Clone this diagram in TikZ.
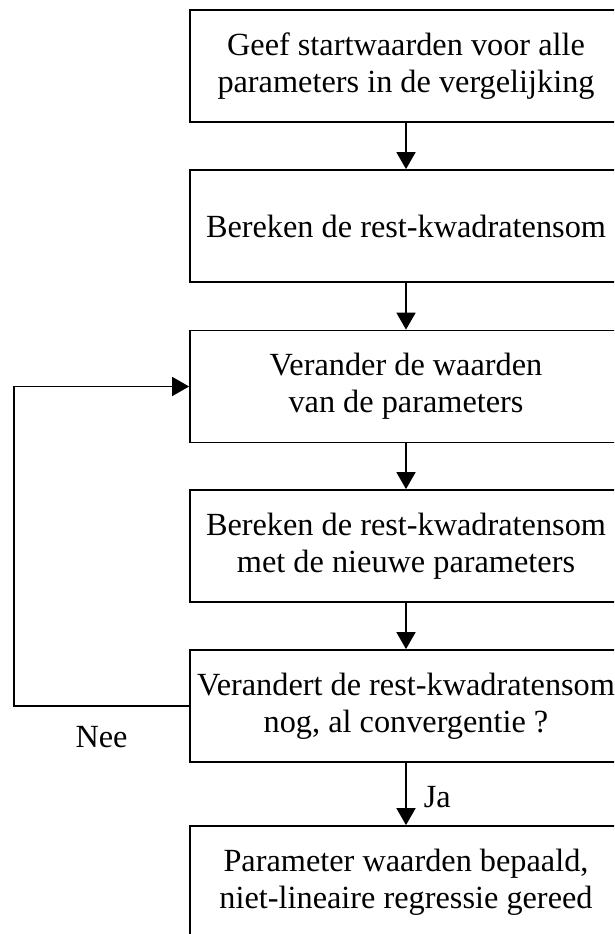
\documentclass[tikz,border=0pt]{standalone}
\usepackage{fontspec}
\setmainfont{Liberation Serif}
\usetikzlibrary{arrows.meta}
\begin{document}
\begin{tikzpicture}[x=1pt,y=-1pt,
  stepbox/.style={draw=black, line width=1.8pt, minimum width=432pt, minimum height=112pt,
    align=center, inner sep=0pt, font=\fontsize{32.3}{37}\selectfont},
  arr/.style={line width=1.8pt, -{Triangle[length=17pt,width=19pt]}},
  lbl/.style={inner sep=0pt, font=\fontsize{32.3}{37}\selectfont}]
\useasboundingbox (0,0) rectangle (614,934);
\clip (0,0) rectangle (614,934);
\fill[white] (0,0) rectangle (614,934);
\node[stepbox] (b1) at (406,66) {Geef startwaarden voor alle\\parameters in de vergelijking};
\node[stepbox] (b2) at (406,226) {Bereken de rest-kwadratensom};
\node[stepbox] (b3) at (406,386.5) {Verander de waarden\\van de parameters};
\node[stepbox] (b4) at (406,546) {Bereken de rest-kwadratensom\\met de nieuwe parameters};
\node[stepbox] (b5) at (406,706) {Verandert de rest-kwadratensom\\nog, al convergentie ?};
\node[stepbox] (b6) at (406,882) {Parameter waarden bepaald,\\niet-lineaire regressie gereed};
\coordinate (lx) at (14,0);
\draw[arr] (b1) -- (b2);
\draw[arr] (b2) -- (b3);
\draw[arr] (b3) -- (b4);
\draw[arr] (b4) -- (b5);
\draw[arr] (b5) -- node[lbl, pos=0.55, right=17pt] {Ja} (b6);
\draw[arr] (b5.west) -- node[lbl, pos=0.5, below=19pt] {Nee} (b5.west -| lx) |- (b3.west);
\end{tikzpicture}
\end{document}
